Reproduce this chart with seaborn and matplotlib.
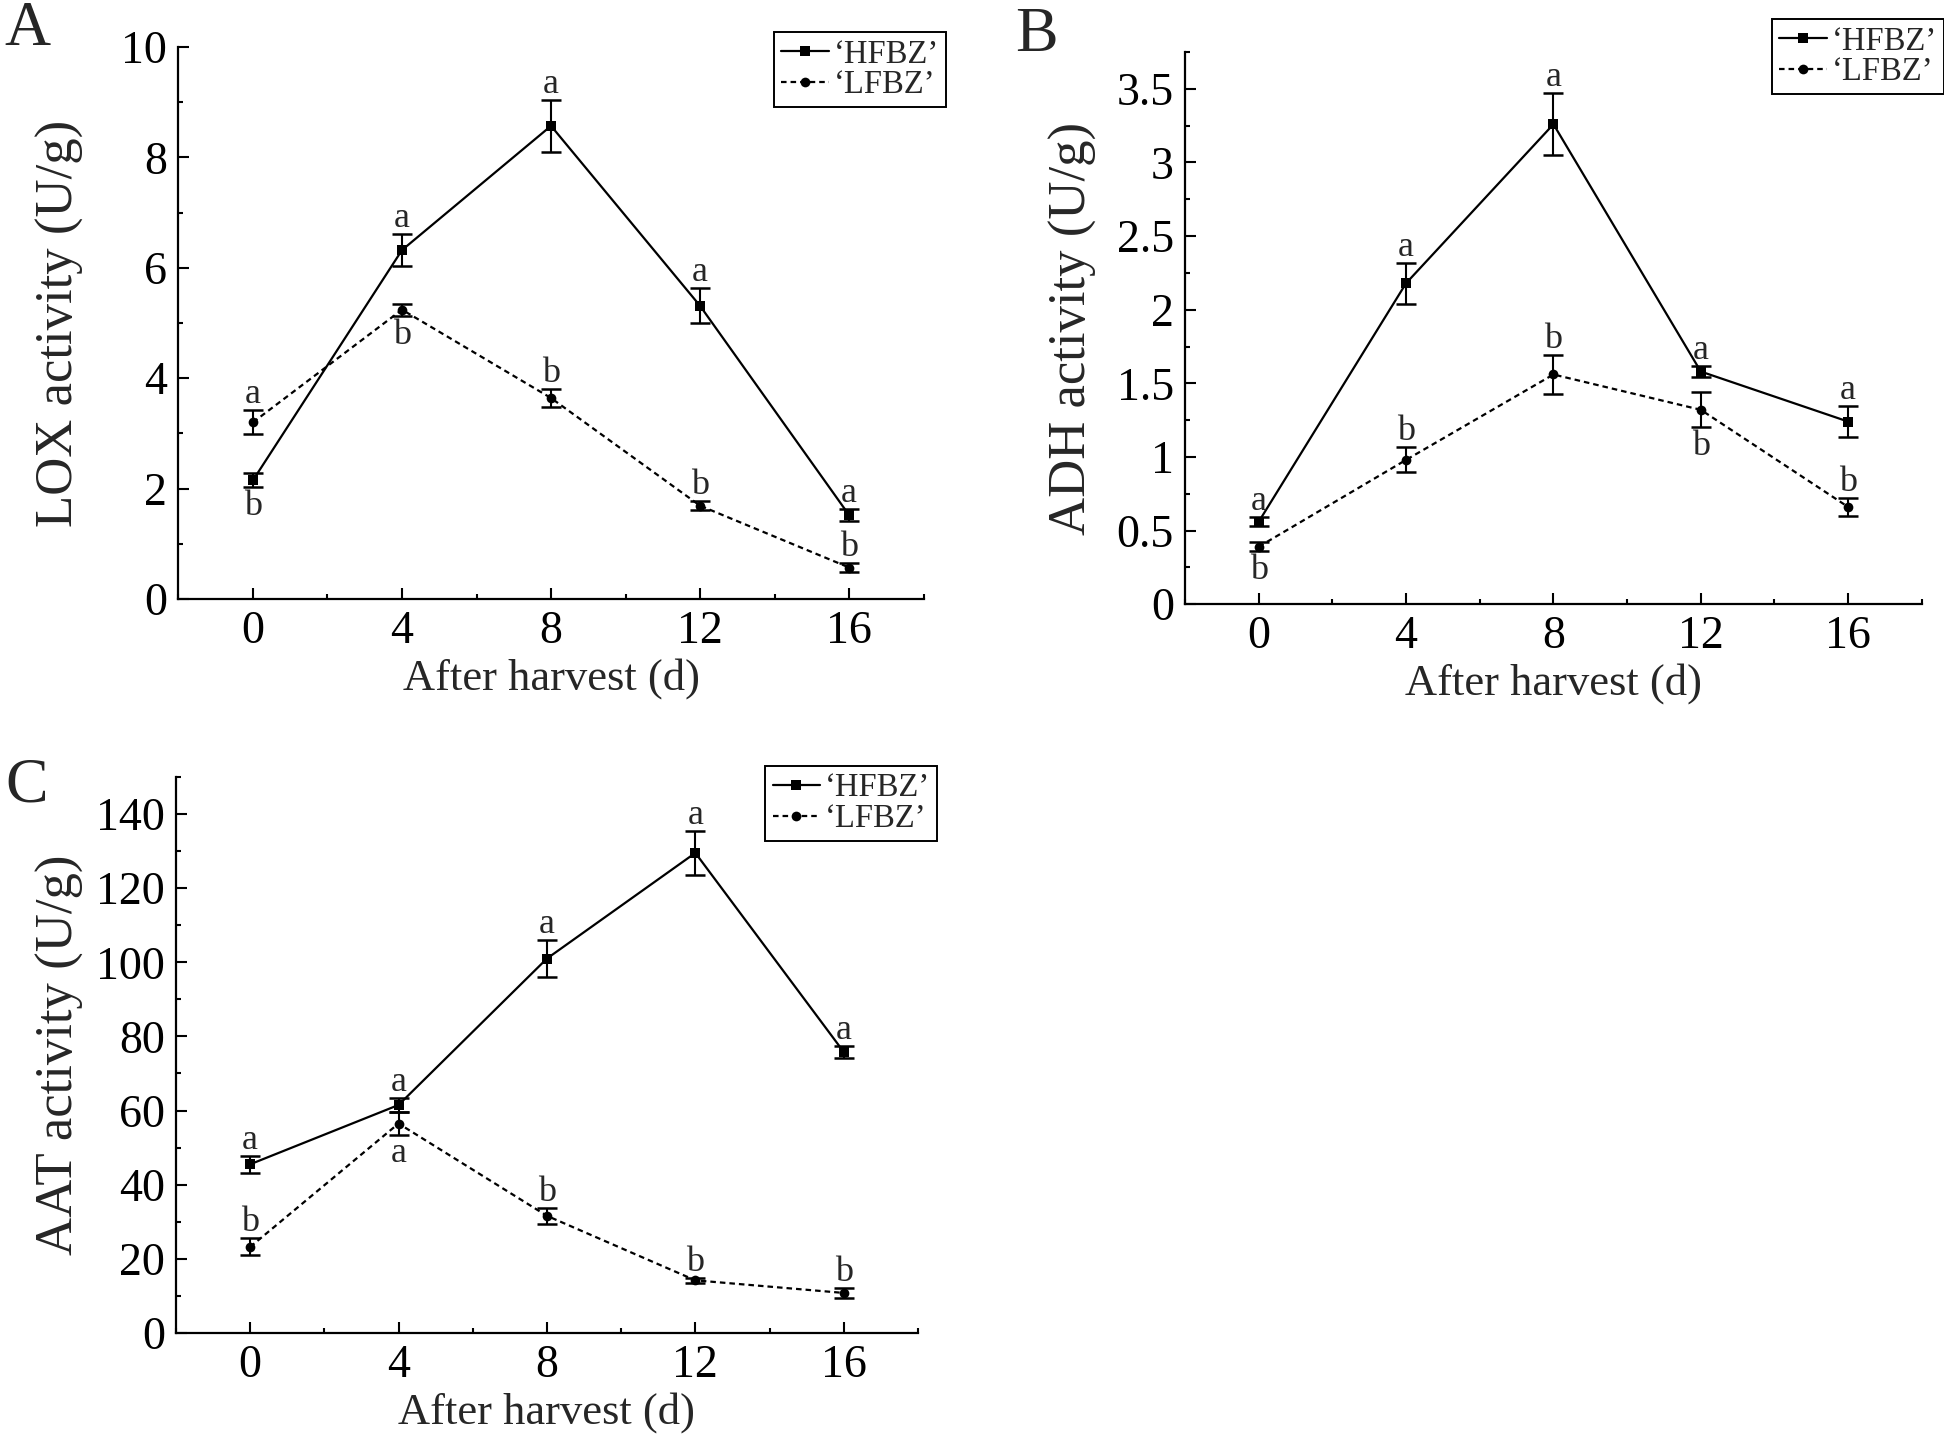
import matplotlib
matplotlib.use("Agg")
import matplotlib.pyplot as plt
import seaborn as sns
from matplotlib.ticker import MultipleLocator, AutoMinorLocator

days = [0, 4, 8, 12, 16]
series_names = ["\u2018HFBZ\u2019", "\u2018LFBZ\u2019"]

# LOX
lox_hfbz = [2.15, 6.32, 8.57, 5.31, 1.52]
lox_hfbz_err = [0.13, 0.29, 0.47, 0.32, 0.11]
lox_lfbz = [3.20, 5.24, 3.64, 1.69, 0.57]
lox_lfbz_err = [0.22, 0.11, 0.17, 0.08, 0.09]
lox_hfbz_sig = ["b", "a", "a", "a", "a"]
lox_lfbz_sig = ["a", "b", "b", "b", "b"]
lox_hfbz_above = [False, True, True, True, True]
lox_lfbz_above = [True, False, True, True, True]

# ADH
adh_hfbz = [0.56, 2.18, 3.26, 1.58, 1.24]
adh_hfbz_err = [0.03, 0.14, 0.21, 0.035, 0.105]
adh_lfbz = [0.39, 0.98, 1.56, 1.32, 0.66]
adh_lfbz_err = [0.03, 0.085, 0.135, 0.12, 0.06]
adh_hfbz_sig = ["a", "a", "a", "a", "a"]
adh_lfbz_sig = ["b", "b", "b", "b", "b"]
adh_hfbz_above = [True, True, True, True, True]
adh_lfbz_above = [False, True, True, False, True]

# AAT
aat_hfbz = [45.5, 61.5, 101.0, 129.5, 75.8]
aat_hfbz_err = [2.3, 1.8, 4.9, 5.9, 1.7]
aat_lfbz = [23.2, 56.5, 31.6, 14.2, 10.8]
aat_lfbz_err = [2.3, 3.0, 2.2, 0.6, 1.4]
aat_hfbz_sig = ["a", "a", "a", "a", "a"]
aat_lfbz_sig = ["b", "a", "b", "b", "b"]
aat_hfbz_above = [True, True, True, True, True]
aat_lfbz_above = [True, False, True, True, True]

sns.set_style("ticks")
plt.rcParams["font.family"] = ["Liberation Serif", "DejaVu Serif"]

fig = plt.figure(figsize=(19.44, 14.35), dpi=100)


def draw_panel(ax, h, h_err, l, l_err, h_sig, l_sig, h_up, l_up,
               ylabel, ylim, ymajor, yticks, legend_anchor, ylabel_x):
    sns.lineplot(x=days, y=h, ax=ax, color="black", marker="s", markersize=7,
                 markeredgewidth=0, linewidth=1.6, label=series_names[0])
    sns.lineplot(x=days, y=l, ax=ax, color="black", marker="o", markersize=7,
                 markeredgewidth=0, linewidth=1.6, linestyle=(0, (2.5, 1.8)),
                 label=series_names[1])
    for vals, errs in ((h, h_err), (l, l_err)):
        ax.errorbar(days, vals, yerr=errs, fmt="none", ecolor="black",
                    elinewidth=1.5, capsize=7.5, capthick=1.8)
    for vals, errs, sig, up in ((h, h_err, h_sig, h_up), (l, l_err, l_sig, l_up)):
        for x, v, e, s, u in zip(days, vals, errs, sig, up):
            if u:
                ax.annotate(s, (x, v + e), xytext=(0, 5), textcoords="offset points",
                            ha="center", va="baseline", fontsize=26)
            else:
                ax.annotate(s, (x, v - e), xytext=(0, -2), textcoords="offset points",
                            ha="center", va="top", fontsize=26)

    ax.set_xlim(-2, 18)
    ax.set_ylim(*ylim)
    ax.xaxis.set_major_locator(MultipleLocator(4))
    ax.xaxis.set_minor_locator(AutoMinorLocator(2))
    ax.yaxis.set_major_locator(MultipleLocator(ymajor))
    ax.yaxis.set_minor_locator(AutoMinorLocator(2))
    if yticks is not None:
        ax.set_yticks(yticks[0])
        ax.set_yticklabels(yticks[1])
    sns.despine(ax=ax)
    for sp in ("left", "bottom"):
        ax.spines[sp].set_linewidth(1.6)
        ax.spines[sp].set_color("black")
    ax.tick_params(which="major", direction="in", length=8, width=1.5,
                   labelsize=33, pad=8, colors="black")
    ax.tick_params(which="minor", direction="in", length=3.8, width=1.5,
                   colors="black")
    ax.set_xlabel("After harvest (d)", fontsize=32, labelpad=4)
    ax.set_ylabel(ylabel, fontsize=38)
    ax.yaxis.set_label_coords(ylabel_x, 0.5)
    leg = ax.legend(loc="upper right", bbox_to_anchor=legend_anchor,
                    borderaxespad=0, fontsize=23.5, frameon=True, fancybox=False,
                    framealpha=1, edgecolor="black", handlelength=1.45,
                    handletextpad=0.15, borderpad=0.22, labelspacing=0.0)
    leg.get_frame().set_linewidth(1.4)


ax_a = fig.add_axes([0.0918, 0.5826, 0.3833, 0.3847])
draw_panel(ax_a, lox_hfbz, lox_hfbz_err, lox_lfbz, lox_lfbz_err,
           lox_hfbz_sig, lox_lfbz_sig, lox_hfbz_above, lox_lfbz_above,
           "LOX activity (U/g)", (0, 10), 2, None, (1.03, 1.027), -0.127)

ax_b = fig.add_axes([0.6096, 0.579, 0.3790, 0.3847])
draw_panel(ax_b, adh_hfbz, adh_hfbz_err, adh_lfbz, adh_lfbz_err,
           adh_hfbz_sig, adh_lfbz_sig, adh_hfbz_above, adh_lfbz_above,
           "ADH activity (U/g)", (0, 3.75), 0.5,
           ([0, 0.5, 1, 1.5, 2, 2.5, 3, 3.5], ["0", "0.5", "1", "1.5", "2", "2.5", "3", "3.5"]),
           (1.03, 1.06), -0.119)

ax_c = fig.add_axes([0.0905, 0.0711, 0.3817, 0.3875])
draw_panel(ax_c, aat_hfbz, aat_hfbz_err, aat_lfbz, aat_lfbz_err,
           aat_hfbz_sig, aat_lfbz_sig, aat_hfbz_above, aat_lfbz_above,
           "AAT activity (U/g)", (0, 150), 20, None, (1.026, 1.02), -0.124)

fig.text(0.002, 0.999, "A", fontsize=46, va="top", ha="left")
fig.text(0.522, 0.995, "B", fontsize=46, va="top", ha="left")
fig.text(0.003, 0.472, "C", fontsize=46, va="top", ha="left")

fig.savefig("out.png", dpi=100)
